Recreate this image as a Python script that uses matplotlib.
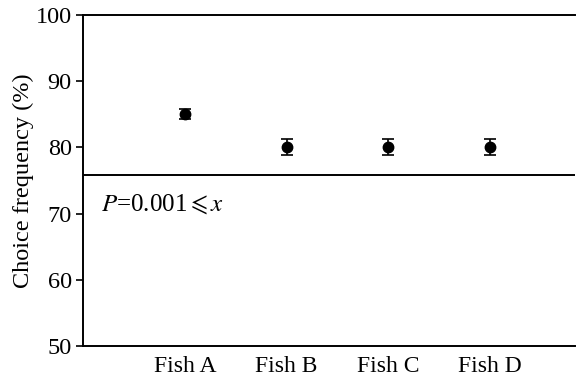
import matplotlib
matplotlib.use("Agg")
import matplotlib.pyplot as plt

# Choice frequency per fish (mean ± error)
fish = ["Fish A", "Fish B", "Fish C", "Fish D"]
freq = [85.0, 80.1, 80.1, 80.1]
err = [0.8, 1.2, 1.2, 1.2]
threshold = 75.8
yticks = [50, 60, 70, 80, 90, 100]

plt.rcParams["font.family"] = "serif"
plt.rcParams["font.serif"] = ["Liberation Serif", "DejaVu Serif"]
plt.rcParams["mathtext.fontset"] = "stix"

fig = plt.figure(figsize=(5.76, 3.81), dpi=100)
ax = fig.add_axes([0.144, 0.092, 0.854, 0.869])

xs = list(range(1, len(fish) + 1))
ax.errorbar(xs, freq, yerr=err, fmt="o", color="black", markersize=7.5,
            elinewidth=1.2, capsize=4, capthick=1.2)
ax.axhline(threshold, color="black", linewidth=1.4)

ax.text(0.18, 71.5, "$\\mathit{P}$=0.001$\\leqslant$$\\mathit{x}$", fontsize=18,
        ha="left", va="center")

ax.set_xlim(0, 4.83)
ax.set_ylim(50, 100)
ax.set_xticks(xs)
ax.set_xticklabels(fish)
ax.set_yticks(yticks)
ax.tick_params(axis="x", length=0, labelsize=17, pad=7)
ax.tick_params(axis="y", length=5, width=1.2, labelsize=17.5, direction="out", pad=3)
ax.set_ylabel("Choice frequency (%)", fontsize=17.5, labelpad=1)

ax.spines["right"].set_visible(False)
for s in ("left", "top", "bottom"):
    ax.spines[s].set_linewidth(1.4)

fig.savefig("out.png", dpi=100)
